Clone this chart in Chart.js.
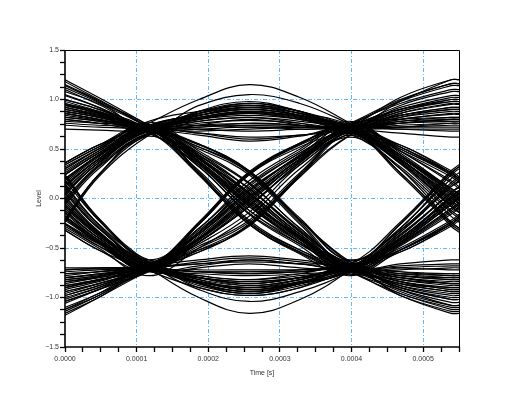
<!DOCTYPE html>
<html>
<head>
<meta charset="utf-8">
<script src="https://cdn.jsdelivr.net/npm/chart.js@4/dist/chart.umd.min.js"></script>
<style>
  body { margin: 0; background: #fff; }
</style>
</head>
<body>
<canvas id="eye" width="525" height="397"></canvas>
<script>
// sample times of every trace (s)
const times = [0, 0.000047, 0.000117, 0.000187, 0.000257, 0.000328, 0.000398, 0.000468, 0.000539, 0.00055];

// one row per sweep of the eye diagram
const traces = [
  [0.86, 0.80, 0.71, 0.76, 0.79, 0.76, 0.71, 0.80, 0.86, 0.86],
  [0.98, 0.88, 0.69, 0.86, 0.96, 0.88, 0.73, 0.78, 0.80, 0.80],
  [0.76, 0.74, 0.72, 0.66, 0.60, 0.64, 0.70, 0.88, 1.00, 1.00],
  [0.92, 0.84, 0.70, 0.84, 0.92, 0.84, 0.70, 0.40, -0.02, -0.08],
  [1.10, 0.95, 0.72, 0.84, 0.92, 0.86, 0.74, 0.42, 0.10, 0.04],
  [0.80, 0.76, 0.68, 0.70, 0.72, 0.70, 0.67, 0.35, -0.12, -0.18],
  [0.95, 0.86, 0.70, 0.40, 0.05, -0.36, -0.70, -0.40, 0.00, 0.05],
  [1.20, 1.02, 0.74, 0.46, 0.15, -0.30, -0.66, -0.34, 0.12, 0.17],
  [0.82, 0.78, 0.66, 0.34, -0.08, -0.42, -0.73, -0.45, -0.10, -0.05],
  [0.90, 0.83, 0.71, 0.38, -0.02, -0.40, -0.70, -0.84, -0.92, -0.92],
  [1.05, 0.92, 0.68, 0.32, -0.15, -0.46, -0.74, -0.92, -1.05, -1.05],
  [0.78, 0.76, 0.73, 0.44, 0.10, -0.32, -0.67, -0.70, -0.72, -0.72],
  [-0.12, -0.40, -0.70, -0.38, 0.02, 0.40, 0.71, 0.84, 0.92, 0.92],
  [0.02, -0.33, -0.65, -0.30, 0.14, 0.46, 0.75, 0.96, 1.10, 1.10],
  [-0.25, -0.45, -0.74, -0.44, -0.06, 0.34, 0.68, 0.72, 0.76, 0.76],
  [-0.14, -0.40, -0.70, -0.40, 0.00, 0.40, 0.70, 0.40, 0.00, -0.05],
  [0.05, -0.30, -0.62, -0.30, 0.18, 0.50, 0.78, 0.48, 0.18, 0.12],
  [-0.30, -0.50, -0.78, -0.50, -0.18, 0.30, 0.62, 0.30, -0.18, -0.24],
  [-0.10, -0.38, -0.70, -0.84, -0.92, -0.84, -0.70, -0.40, 0.02, 0.08],
  [0.08, -0.30, -0.68, -0.85, -0.94, -0.86, -0.72, -0.44, -0.06, 0.00],
  [-0.22, -0.44, -0.72, -0.68, -0.62, -0.66, -0.68, -0.34, 0.14, 0.20],
  [-0.15, -0.42, -0.71, -0.80, -0.84, -0.80, -0.71, -0.80, -0.86, -0.86],
  [0.00, -0.34, -0.67, -0.80, -0.88, -0.82, -0.70, -0.90, -1.02, -1.02],
  [-0.26, -0.48, -0.74, -0.70, -0.66, -0.70, -0.73, -0.72, -0.70, -0.70],
  [0.14, 0.40, 0.70, 0.80, 0.86, 0.80, 0.70, 0.80, 0.85, 0.85],
  [0.28, 0.48, 0.74, 0.84, 0.90, 0.84, 0.72, 0.70, 0.68, 0.68],
  [-0.02, 0.33, 0.66, 0.68, 0.70, 0.72, 0.74, 0.90, 1.00, 1.00],
  [0.12, 0.40, 0.70, 0.82, 0.88, 0.82, 0.70, 0.40, 0.02, -0.04],
  [0.30, 0.50, 0.76, 1.00, 1.15, 1.02, 0.76, 0.48, 0.16, 0.10],
  [-0.04, 0.32, 0.64, 0.74, 0.80, 0.74, 0.65, 0.32, -0.14, -0.20],
  [0.12, 0.40, 0.70, 0.40, 0.00, -0.40, -0.70, -0.40, 0.00, 0.05],
  [0.26, 0.48, 0.77, 0.48, 0.16, -0.30, -0.63, -0.32, 0.16, 0.22],
  [-0.06, 0.30, 0.63, 0.32, -0.16, -0.48, -0.77, -0.48, -0.16, -0.10],
  [0.14, 0.40, 0.71, 0.38, -0.04, -0.40, -0.70, -0.86, -0.94, -0.94],
  [0.30, 0.50, 0.75, 0.46, 0.10, -0.34, -0.66, -0.74, -0.78, -0.78],
  [0.00, 0.34, 0.67, 0.34, -0.12, -0.46, -0.74, -0.96, -1.12, -1.12],
  [-0.90, -0.82, -0.70, -0.40, 0.00, 0.40, 0.70, 0.84, 0.92, 0.92],
  [-1.12, -0.96, -0.72, -0.46, -0.14, 0.34, 0.66, 0.76, 0.80, 0.80],
  [-0.76, -0.74, -0.67, -0.34, 0.12, 0.46, 0.74, 0.98, 1.14, 1.14],
  [-0.88, -0.82, -0.70, -0.40, 0.02, 0.40, 0.70, 0.40, 0.00, -0.05],
  [-1.04, -0.92, -0.74, -0.44, -0.08, 0.36, 0.68, 0.36, -0.08, -0.14],
  [-0.72, -0.70, -0.66, -0.34, 0.15, 0.48, 0.76, 0.46, 0.10, 0.05],
  [-0.86, -0.80, -0.71, -0.78, -0.82, -0.78, -0.70, -0.40, 0.00, 0.06],
  [-1.16, -1.00, -0.73, -0.84, -0.90, -0.86, -0.74, -0.46, -0.10, -0.04],
  [-0.78, -0.74, -0.68, -0.62, -0.58, -0.62, -0.66, -0.32, 0.12, 0.18],
  [-0.84, -0.79, -0.70, -0.80, -0.86, -0.80, -0.70, -0.78, -0.82, -0.82],
  [-1.02, -0.90, -0.72, -0.84, -0.92, -0.86, -0.72, -0.88, -0.96, -0.96],
  [-0.70, -0.70, -0.69, -0.66, -0.64, -0.66, -0.69, -0.92, -1.08, -1.08],
  [0.92, 0.85, 0.73, 0.82, 0.88, 0.83, 0.72, 0.76, 0.78, 0.78],
  [1.04, 0.92, 0.70, 0.74, 0.76, 0.74, 0.70, 0.86, 0.95, 0.95],
  [0.70, 0.69, 0.68, 0.72, 0.76, 0.74, 0.71, 0.74, 0.76, 0.76],
  [0.88, 0.82, 0.72, 0.88, 0.96, 0.88, 0.72, 0.44, 0.06, 0.00],
  [1.00, 0.90, 0.71, 0.78, 0.82, 0.78, 0.69, 0.37, -0.06, -0.12],
  [0.74, 0.72, 0.70, 0.64, 0.58, 0.63, 0.71, 0.39, 0.04, -0.02],
  [1.08, 0.96, 0.72, 0.43, 0.10, -0.33, -0.68, -0.37, 0.06, 0.11],
  [0.88, 0.82, 0.69, 0.37, -0.04, -0.39, -0.71, -0.42, -0.04, 0.01],
  [1.15, 0.99, 0.71, 0.36, -0.12, -0.44, -0.75, -0.47, -0.14, -0.09],
  [0.96, 0.87, 0.70, 0.41, 0.06, -0.36, -0.69, -0.78, -0.82, -0.82],
  [1.18, 1.00, 0.72, 0.40, 0.02, -0.38, -0.72, -0.98, -1.14, -1.14],
  [0.84, 0.79, 0.70, 0.36, -0.06, -0.41, -0.71, -0.66, -0.62, -0.62],
  [-0.06, -0.37, -0.68, -0.34, 0.08, 0.43, 0.73, 0.90, 1.02, 1.02],
  [-0.18, -0.42, -0.72, -0.41, -0.02, 0.38, 0.70, 0.70, 0.70, 0.70],
  [0.10, -0.28, -0.66, -0.36, 0.04, 0.42, 0.72, 0.99, 1.16, 1.16],
  [-0.08, -0.36, -0.68, -0.36, 0.08, 0.44, 0.74, 0.44, 0.08, 0.02],
  [-0.20, -0.44, -0.72, -0.44, -0.08, 0.36, 0.67, 0.36, -0.08, -0.14],
  [0.12, -0.26, -0.64, -0.32, 0.10, 0.42, 0.70, 0.38, -0.02, -0.08],
  [-0.04, -0.35, -0.69, -0.80, -0.86, -0.80, -0.71, -0.42, -0.02, 0.04],
  [-0.18, -0.43, -0.73, -0.76, -0.78, -0.76, -0.70, -0.38, 0.06, 0.12],
  [0.14, -0.26, -0.66, -0.92, -1.04, -0.94, -0.74, -0.46, -0.12, -0.06],
  [-0.08, -0.38, -0.69, -0.86, -0.94, -0.86, -0.70, -0.84, -0.92, -0.92],
  [-0.20, -0.45, -0.72, -0.74, -0.76, -0.74, -0.72, -0.96, -1.10, -1.10],
  [0.06, -0.30, -0.66, -0.78, -0.82, -0.76, -0.68, -0.76, -0.80, -0.80],
  [0.20, 0.44, 0.72, 0.86, 0.94, 0.86, 0.71, 0.84, 0.90, 0.90],
  [0.06, 0.36, 0.68, 0.72, 0.74, 0.74, 0.70, 0.72, 0.74, 0.74],
  [0.34, 0.52, 0.78, 0.88, 0.94, 0.88, 0.73, 0.92, 1.04, 1.04],
  [0.18, 0.43, 0.71, 0.84, 0.90, 0.84, 0.71, 0.42, 0.06, 0.00],
  [0.06, 0.36, 0.68, 0.66, 0.62, 0.64, 0.67, 0.36, -0.08, -0.14],
  [0.24, 0.46, 0.74, 0.84, 0.90, 0.84, 0.73, 0.44, 0.10, 0.04],
  [0.18, 0.44, 0.73, 0.44, 0.06, -0.36, -0.67, -0.36, 0.06, 0.12],
  [0.04, 0.36, 0.67, 0.36, -0.06, -0.44, -0.73, -0.44, -0.06, 0.00],
  [0.32, 0.50, 0.75, 0.42, -0.02, -0.38, -0.69, -0.42, 0.02, 0.08],
  [0.20, 0.44, 0.72, 0.42, 0.04, -0.38, -0.68, -0.80, -0.86, -0.86],
  [0.06, 0.36, 0.69, 0.36, -0.08, -0.44, -0.72, -0.90, -1.02, -1.02],
  [0.24, 0.46, 0.73, 0.40, 0.00, -0.41, -0.71, -0.68, -0.66, -0.66],
  [-0.96, -0.86, -0.71, -0.42, -0.04, 0.38, 0.69, 0.88, 0.98, 0.98],
  [-0.82, -0.78, -0.69, -0.36, 0.06, 0.44, 0.72, 0.72, 0.72, 0.72],
  [-1.06, -0.92, -0.73, -0.44, -0.08, 0.37, 0.70, 0.94, 1.08, 1.08],
  [-0.94, -0.86, -0.72, -0.42, -0.02, 0.38, 0.71, 0.42, 0.04, -0.02],
  [-0.80, -0.76, -0.68, -0.36, 0.08, 0.44, 0.74, 0.44, 0.06, 0.00],
  [-1.14, -0.98, -0.71, -0.40, 0.00, 0.40, 0.70, 0.38, -0.04, -0.10],
  [-0.92, -0.84, -0.71, -0.84, -0.92, -0.85, -0.71, -0.40, 0.02, 0.08],
  [-0.74, -0.72, -0.70, -0.66, -0.62, -0.66, -0.70, -0.42, -0.04, 0.02],
  [-1.04, -0.92, -0.72, -0.88, -0.96, -0.88, -0.73, -0.44, -0.06, 0.00],
  [-0.90, -0.83, -0.71, -0.86, -0.94, -0.86, -0.71, -0.84, -0.90, -0.90],
  [-0.76, -0.74, -0.71, -0.74, -0.76, -0.74, -0.70, -0.74, -0.76, -0.76],
  [-1.10, -0.96, -0.70, -0.80, -0.84, -0.80, -0.72, -0.80, -0.84, -0.84],
  [0.82, 0.78, 0.70, 0.80, 0.84, 0.80, 0.70, 0.78, 0.82, 0.82],
  [0.94, 0.86, 0.71, 0.81, 0.87, 0.81, 0.72, 0.90, 0.98, 0.98],
  [0.88, 0.82, 0.72, 0.70, 0.68, 0.70, 0.72, 0.82, 0.88, 0.88],
  [0.86, 0.80, 0.70, 0.86, 0.94, 0.86, 0.71, 0.48, 0.22, 0.16],
  [0.96, 0.88, 0.73, 0.74, 0.74, 0.72, 0.68, 0.30, -0.24, -0.30],
  [1.14, 0.98, 0.70, 0.94, 1.05, 0.96, 0.75, 0.50, 0.26, 0.20],
  [0.90, 0.84, 0.71, 0.52, 0.26, -0.22, -0.62, -0.30, 0.24, 0.30],
  [1.00, 0.90, 0.69, 0.24, -0.26, -0.56, -0.78, -0.52, -0.24, -0.18],
  [0.80, 0.76, 0.72, 0.55, 0.28, -0.20, -0.64, -0.54, -0.26, -0.20],
  [0.94, 0.86, 0.70, 0.55, 0.28, -0.22, -0.64, -0.88, -0.98, -0.98],
  [1.12, 0.97, 0.73, 0.24, -0.26, -0.55, -0.76, -0.76, -0.76, -0.76],
  [0.86, 0.80, 0.68, 0.28, -0.22, -0.52, -0.72, -0.86, -0.90, -0.90],
  [-0.32, -0.52, -0.72, -0.24, 0.26, 0.56, 0.76, 0.80, 0.82, 0.82],
  [0.22, -0.20, -0.62, -0.52, -0.28, 0.22, 0.64, 0.86, 0.96, 0.96],
  [-0.18, -0.44, -0.70, -0.26, 0.24, 0.52, 0.72, 1.02, 1.20, 1.20],
  [-0.26, -0.46, -0.72, -0.25, 0.25, 0.55, 0.74, 0.52, 0.26, 0.20],
  [0.18, -0.22, -0.64, -0.54, -0.26, 0.24, 0.66, 0.26, -0.26, -0.32],
  [-0.02, -0.34, -0.69, -0.48, -0.22, 0.26, 0.68, 0.54, 0.28, 0.22],
  [-0.28, -0.48, -0.71, -0.80, -0.86, -0.80, -0.68, -0.52, -0.26, -0.20],
  [0.22, -0.22, -0.66, -0.86, -0.96, -0.86, -0.72, -0.26, 0.26, 0.32],
  [-0.06, -0.36, -0.70, -1.00, -1.16, -1.02, -0.72, -0.30, 0.20, 0.26],
  [0.24, -0.20, -0.64, -0.82, -0.90, -0.82, -0.70, -0.82, -0.88, -0.88],
  [-0.32, -0.52, -0.73, -0.90, -0.98, -0.90, -0.71, -0.98, -1.16, -1.16],
  [-0.12, -0.40, -0.69, -0.72, -0.72, -0.72, -0.70, -0.78, -0.80, -0.80],
  [0.24, 0.46, 0.71, 0.82, 0.88, 0.82, 0.71, 0.76, 0.80, 0.80],
  [-0.24, 0.22, 0.64, 0.88, 0.98, 0.88, 0.72, 0.98, 1.20, 1.20],
  [0.36, 0.54, 0.74, 0.74, 0.72, 0.72, 0.70, 0.66, 0.62, 0.62],
  [0.36, 0.54, 0.73, 0.86, 0.92, 0.86, 0.72, 0.52, 0.24, 0.18],
  [-0.20, 0.24, 0.66, 0.80, 0.86, 0.80, 0.70, 0.26, -0.24, -0.30],
  [0.10, 0.38, 0.70, 0.78, 0.82, 0.76, 0.66, 0.54, 0.26, 0.20],
  [0.34, 0.52, 0.72, 0.26, -0.24, -0.52, -0.71, -0.52, -0.26, -0.20],
  [-0.22, 0.24, 0.65, 0.54, 0.26, -0.24, -0.66, -0.26, 0.26, 0.32],
  [0.08, 0.38, 0.70, 0.50, 0.24, -0.26, -0.70, -0.54, -0.28, -0.22],
  [0.36, 0.54, 0.73, 0.24, -0.26, -0.54, -0.73, -0.82, -0.86, -0.86],
  [-0.22, 0.24, 0.66, 0.52, 0.27, -0.22, -0.66, -0.94, -1.08, -1.08],
  [0.16, 0.42, 0.71, 0.26, -0.24, -0.54, -0.74, -0.70, -0.68, -0.68],
  [-0.88, -0.82, -0.72, -0.52, -0.26, 0.24, 0.64, 0.82, 0.90, 0.90],
  [-1.00, -0.90, -0.71, -0.24, 0.27, 0.56, 0.76, 1.00, 1.16, 1.16],
  [-0.80, -0.76, -0.70, -0.26, 0.24, 0.54, 0.72, 0.76, 0.78, 0.78],
  [-0.98, -0.88, -0.70, -0.26, 0.25, 0.55, 0.75, 0.50, 0.24, 0.18],
  [-0.84, -0.80, -0.72, -0.54, -0.27, 0.22, 0.64, 0.24, -0.28, -0.34],
  [-1.18, -1.00, -0.73, -0.50, -0.24, 0.24, 0.68, 0.52, 0.26, 0.20],
  [-0.82, -0.78, -0.70, -0.82, -0.88, -0.82, -0.71, -0.52, -0.24, -0.18],
  [-0.98, -0.88, -0.72, -0.74, -0.74, -0.72, -0.66, -0.24, 0.28, 0.34],
  [-1.12, -0.98, -0.71, -0.90, -0.98, -0.90, -0.72, -0.50, -0.22, -0.16],
  [-0.94, -0.86, -0.72, -0.74, -0.74, -0.74, -0.70, -0.90, -1.00, -1.00],
  [-0.80, -0.77, -0.69, -0.84, -0.90, -0.84, -0.72, -0.76, -0.78, -0.78],
  [-0.72, -0.71, -0.70, -0.64, -0.60, -0.64, -0.71, -0.86, -0.94, -0.94]
];

// labelled ticks
const xLabels = [0, 0.0001, 0.0002, 0.0003, 0.0004, 0.0005];
const yLabels = [-1.5, -1.0, -0.5, 0, 0.5, 1.0, 1.5];

const gridBlue = "#62b8fa";
const near = (v, list) => list.some(l => Math.abs(l - v) < 1e-9);

// box round the plot, heavier on the two axes
const framePlugin = {
  id: "frame",
  afterDatasetsDraw(chart) {
    const { ctx, chartArea: a } = chart;
    const l = Math.round(a.left), r = Math.round(a.right);
    const t = Math.round(a.top), b = Math.round(a.bottom);
    ctx.save();
    ctx.strokeStyle = "#000";
    ctx.lineWidth = 1;
    ctx.beginPath();
    ctx.moveTo(l, t + 0.5);
    ctx.lineTo(r + 0.5, t + 0.5);
    ctx.lineTo(r + 0.5, b);
    ctx.stroke();
    ctx.lineWidth = 1.6;
    ctx.beginPath();
    ctx.moveTo(l, t);
    ctx.lineTo(l, b);
    ctx.lineTo(r + 1, b);
    ctx.stroke();
    ctx.restore();
  }
};

const datasets = traces.map(levels => ({
  data: levels.map((y, i) => ({ x: times[i], y: y })),
  borderColor: "#000",
  borderWidth: 1.2,
  pointRadius: 0,
  tension: 0.4,
  fill: false
}));

const tickFont = { family: "'Liberation Sans', Arial, sans-serif", size: 7 };

new Chart(document.getElementById("eye"), {
  type: "line",
  data: { datasets: datasets },
  plugins: [framePlugin],
  options: {
    responsive: false,
    animation: false,
    events: [],
    layout: { padding: { left: 0, top: 50, right: 66, bottom: 10 } },
    plugins: { legend: { display: false }, tooltip: { enabled: false } },
    scales: {
      x: {
        type: "linear",
        min: 0,
        max: 0.00055,
        afterFit: s => { s.height = 40; },
        afterBuildTicks: s => {
          s.ticks = [];
          for (let i = 0; i <= 22; i++) s.ticks.push({ value: i * 0.000025 });
        },
        ticks: {
          autoSkip: false,
          maxRotation: 0,
          padding: 3,
          color: "#333",
          font: tickFont,
          callback: v => near(v, xLabels) ? v.toFixed(4) : ""
        },
        grid: {
          color: c => (c.tick && c.tick.value > 0 && near(c.tick.value, xLabels)) ? gridBlue : "rgba(0,0,0,0)",
          lineWidth: 1,
          tickLength: 5,
          tickColor: "#000",
          tickWidth: 1.3,
          tickBorderDash: []
        },
        border: { display: false, dash: [4, 2, 1, 2] },
        title: {
          display: true,
          text: "Time [s]",
          color: "#333",
          font: tickFont,
          padding: { top: 0, bottom: 10 }
        }
      },
      y: {
        type: "linear",
        min: -1.5,
        max: 1.5,
        afterFit: s => { s.width = 65; },
        afterBuildTicks: s => {
          s.ticks = [];
          for (let i = 0; i <= 24; i++) s.ticks.push({ value: -1.5 + i * 0.125 });
        },
        ticks: {
          autoSkip: false,
          padding: 1,
          color: "#333",
          font: tickFont,
          callback: v => near(v, yLabels) ? v.toFixed(1).replace("-", "\u2212") : ""
        },
        grid: {
          color: c => (c.tick && Math.abs(c.tick.value) < 1.4 && near(c.tick.value, yLabels)) ? gridBlue : "rgba(0,0,0,0)",
          lineWidth: 1,
          tickLength: 5,
          tickColor: "#000",
          tickWidth: 1.3,
          tickBorderDash: []
        },
        border: { display: false, dash: [4, 2, 1, 2] },
        title: {
          display: true,
          text: "Level",
          color: "#333",
          font: tickFont,
          padding: { top: 35, bottom: 0 }
        }
      }
    }
  }
});
</script>
</body>
</html>
